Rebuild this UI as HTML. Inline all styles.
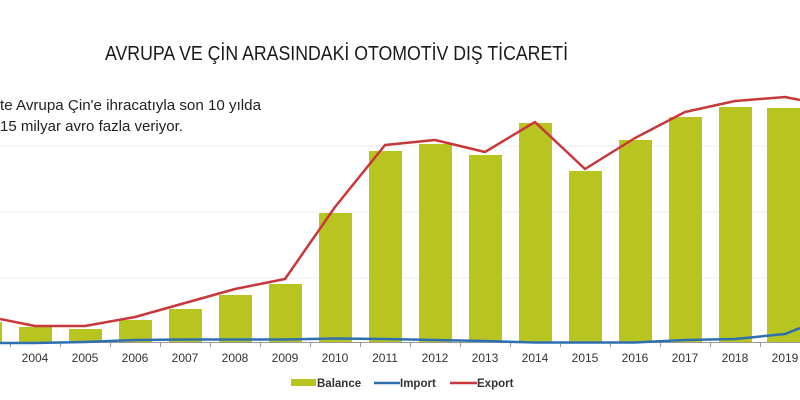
<!DOCTYPE html>
<html><head><meta charset="utf-8"><style>
html,body{margin:0;padding:0;background:#fff;width:800px;height:400px;overflow:hidden}
svg{display:block}
text{font-family:"Liberation Sans",sans-serif}
</style></head><body>
<svg width="800" height="400" viewBox="0 0 800 400">
<rect width="800" height="400" fill="#fff"/>
<text x="105" y="60" font-size="20" fill="#1a1a1a" textLength="463" lengthAdjust="spacingAndGlyphs">AVRUPA VE ÇİN ARASINDAKİ OTOMOTİV DIŞ TİCARETİ</text>
<text x="0" y="110" font-size="15" fill="#222" textLength="261" lengthAdjust="spacingAndGlyphs">te Avrupa Çin'e ihracatıyla son 10 yılda</text>
<text x="0" y="131" font-size="15" fill="#222" textLength="183" lengthAdjust="spacingAndGlyphs">15 milyar avro fazla veriyor.</text>
<g stroke="#eee" stroke-width="1">
<line x1="0" y1="146" x2="800" y2="146"/><line x1="0" y1="212" x2="800" y2="212"/><line x1="0" y1="278" x2="800" y2="278"/>
</g>
<g fill="#b8c41f">
<rect x="-17" y="322" width="19" height="20"/>
<rect x="19" y="327" width="33" height="15"/>
<rect x="69" y="329" width="33" height="13"/>
<rect x="119" y="320" width="33" height="22"/>
<rect x="169" y="309" width="33" height="33"/>
<rect x="219" y="295" width="33" height="47"/>
<rect x="269" y="284" width="33" height="58"/>
<rect x="319" y="213" width="33" height="129"/>
<rect x="369" y="151" width="33" height="191"/>
<rect x="419" y="144" width="33" height="198"/>
<rect x="469" y="155" width="33" height="187"/>
<rect x="519" y="123" width="33" height="219"/>
<rect x="569" y="171" width="33" height="171"/>
<rect x="619" y="140" width="33" height="202"/>
<rect x="669" y="117" width="33" height="225"/>
<rect x="719" y="107" width="33" height="235"/>
<rect x="767" y="108" width="33" height="234"/>
</g>
<line x1="0" y1="342.5" x2="800" y2="342.5" stroke="#999" stroke-width="1"/>
<g stroke="#999" stroke-width="1">
<line x1="10.5" y1="342" x2="10.5" y2="347"/><line x1="60.5" y1="342" x2="60.5" y2="347"/><line x1="110.5" y1="342" x2="110.5" y2="347"/><line x1="160.5" y1="342" x2="160.5" y2="347"/><line x1="210.5" y1="342" x2="210.5" y2="347"/><line x1="260.5" y1="342" x2="260.5" y2="347"/><line x1="310.5" y1="342" x2="310.5" y2="347"/><line x1="360.5" y1="342" x2="360.5" y2="347"/><line x1="410.5" y1="342" x2="410.5" y2="347"/><line x1="460.5" y1="342" x2="460.5" y2="347"/><line x1="510.5" y1="342" x2="510.5" y2="347"/><line x1="560.5" y1="342" x2="560.5" y2="347"/><line x1="610.5" y1="342" x2="610.5" y2="347"/><line x1="660.5" y1="342" x2="660.5" y2="347"/><line x1="710.5" y1="342" x2="710.5" y2="347"/><line x1="760.5" y1="342" x2="760.5" y2="347"/>
</g>
<polyline fill="none" stroke="#2f6fb0" stroke-width="2.5" points="0,343 35,343 85,342 135,340 185,339.5 235,339.5 285,339.5 335,338.5 385,339 435,340 485,341 535,342.5 585,342.5 635,342.5 685,340 735,339 785,334 800,328"/>
<polyline fill="none" stroke="#c8383a" stroke-width="2.5" stroke-linejoin="round" points="0,319 35,326 85,326 135,317 185,303 235,289 285,279 335,207 385,145 435,140 485,152 535,122 585,169 635,138 685,112 735,101 785,97 800,100"/>
<g font-size="12" fill="#333" text-anchor="middle">
<text x="35" y="362">2004</text><text x="85" y="362">2005</text><text x="135" y="362">2006</text><text x="185" y="362">2007</text><text x="235" y="362">2008</text><text x="285" y="362">2009</text><text x="335" y="362">2010</text><text x="385" y="362">2011</text><text x="435" y="362">2012</text><text x="485" y="362">2013</text><text x="535" y="362">2014</text><text x="585" y="362">2015</text><text x="635" y="362">2016</text><text x="685" y="362">2017</text><text x="735" y="362">2018</text><text x="785" y="362">2019</text>
</g>
<rect x="291" y="379" width="25" height="7" fill="#b8c41f"/>
<text x="317" y="387" font-size="11.5" font-weight="bold" fill="#333">Balance</text>
<line x1="374" y1="383" x2="400" y2="383" stroke="#2f6fb0" stroke-width="2.5"/>
<text x="400" y="387" font-size="11.5" font-weight="bold" fill="#333">Import</text>
<line x1="450" y1="383" x2="477" y2="383" stroke="#c8383a" stroke-width="2.5"/>
<text x="477" y="387" font-size="11.5" font-weight="bold" fill="#333">Export</text>
</svg>
</body></html>
